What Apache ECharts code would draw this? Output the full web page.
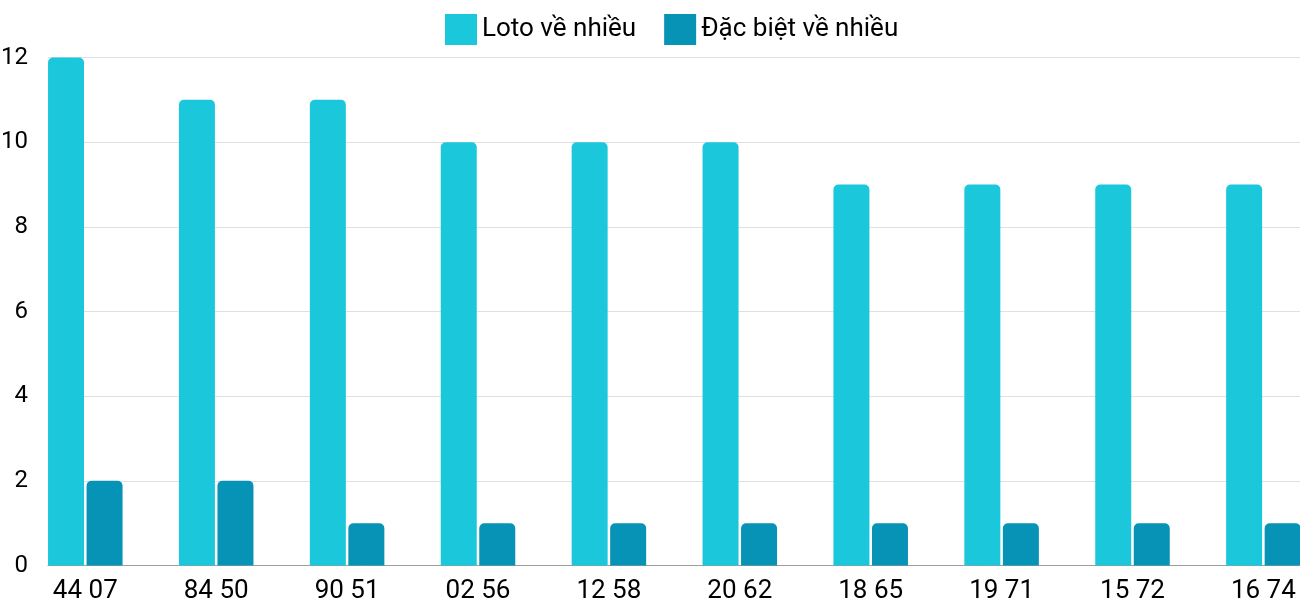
<!DOCTYPE html>
<html><head><meta charset="utf-8">
<script src="https://cdn.jsdelivr.net/npm/echarts@6/dist/echarts.min.js"></script>
<style>html,body{margin:0;padding:0;background:#fff}#c{width:1300px;height:600px}</style>
</head><body><div id="c"></div>
<script>
const categories = ["44 07","84 50","90 51","02 56","12 58","20 62","18 65","19 71","15 72","16 74"];
const lotoValues = [12,11,11,10,10,10,9,9,9,9];
const specialValues = [2,2,1,1,1,1,1,1,1,1];
const yTicks = [0,2,4,6,8,10,12];
const seriesNames = ["Loto về nhiều","Đặc biệt về nhiều"];

const chart = echarts.init(document.getElementById('c'));
const font = 'Roboto';
chart.setOption({
  animation:false,
  textStyle:{fontFamily:font},
  legend:{
    left:440, top:9, itemWidth:32, itemHeight:31, itemGap:28, icon:'rect',
    textStyle:{fontSize:26,color:'#000',fontFamily:font},
    data:seriesNames
  },
  grid:[
    {left:48,right:0,top:57.5,bottom:34.5,outerBoundsMode:'none',containLabel:false},
    {left:19.85,width:1309,top:57.5,bottom:34.5,outerBoundsMode:'none',containLabel:false}
  ],
  xAxis:[
    {type:'category',gridIndex:0,data:categories,axisLabel:{show:false},axisTick:{show:false},
     axisLine:{show:true,lineStyle:{color:'#9e9e9e',width:1}},splitLine:{show:false}},
    {type:'category',gridIndex:1,data:categories,axisTick:{show:false},axisLine:{show:false},
     axisLabel:{fontSize:26,color:'#000',fontFamily:font,margin:13,interval:0}}
  ],
  yAxis:[
    {type:'value',gridIndex:0,min:yTicks[0],max:yTicks[yTicks.length-1],interval:2,
     axisLabel:{fontSize:24,color:'#000',fontFamily:font,margin:20},
     axisLine:{show:false},axisTick:{show:false},
     splitLine:{lineStyle:{color:'#e0e0e0',width:1}}},
    {type:'value',gridIndex:1,min:yTicks[0],max:yTicks[yTicks.length-1],interval:2,show:false,splitLine:{show:false}}
  ],
  series:[
    {name:seriesNames[0],type:'bar',xAxisIndex:1,yAxisIndex:1,data:lotoValues,barWidth:36,barGap:'7%',
     itemStyle:{color:'#1bc8db',borderRadius:[5,5,0,0]}},
    {name:seriesNames[1],type:'bar',xAxisIndex:1,yAxisIndex:1,data:specialValues,barWidth:36,barGap:'7%',
     itemStyle:{color:'#0793b5',borderRadius:[5,5,0,0]}}
  ]
});
</script></body></html>
